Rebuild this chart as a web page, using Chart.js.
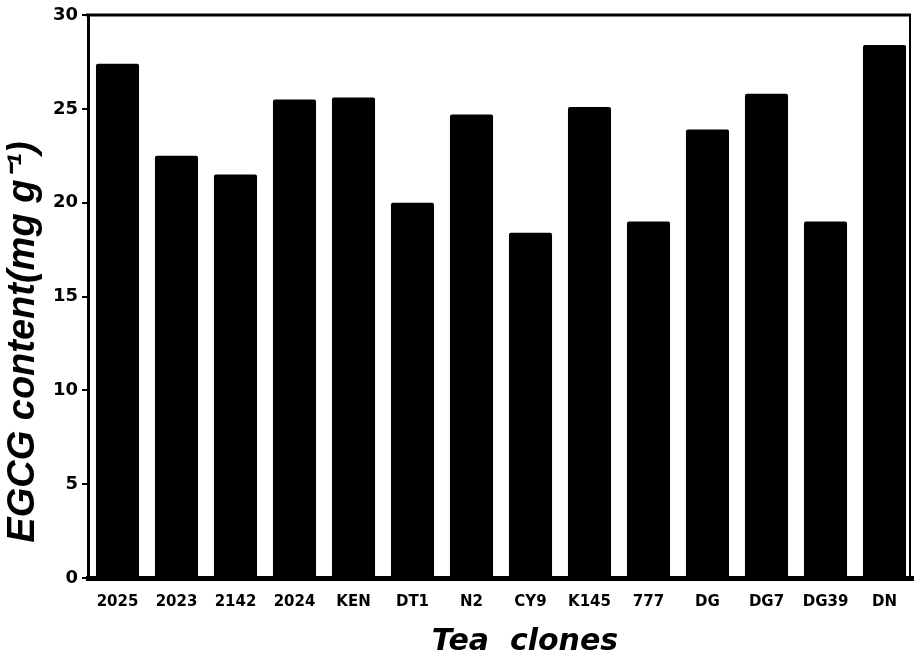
<!DOCTYPE html>
<html>
<head>
<meta charset="utf-8">
<script src="https://cdn.jsdelivr.net/npm/chart.js@4/dist/chart.umd.min.js"></script>
<style>
  html, body { margin: 0; padding: 0; background: #ffffff; }
  #wrap { width: 914px; height: 663px; }
</style>
</head>
<body>
<div id="wrap"><canvas id="c" width="914" height="663"></canvas></div>
<script>
// Tea clones and their EGCG content (mg g-1)
const clones = ['2025', '2023', '2142', '2024', 'KEN', 'DT1', 'N2', 'CY9', 'K145', '777', 'DG', 'DG7', 'DG39', 'DN'];
const egcg = [27.4, 22.5, 21.5, 25.5, 25.6, 20.0, 24.7, 18.4, 25.1, 19.0, 23.9, 25.8, 19.0, 28.4];
const yTicks = [0, 5, 10, 15, 20, 25, 30];
const yTitle = 'EGCG content(mg g\u207B\u00B9)';
const xTitle = 'Tea  clones';

const SANS = '"Liberation Sans", Arial, Helvetica, sans-serif';
const HEAVY = '"DejaVu Sans", "Liberation Sans", sans-serif';

// Frame lines on top/right and the two axis titles
const framePlugin = {
  id: 'frame',
  afterDraw(chart) {
    const { ctx, chartArea: a } = chart;
    ctx.save();
    ctx.strokeStyle = '#000';
    ctx.lineWidth = 3;
    ctx.beginPath();
    ctx.moveTo(a.left - 2, a.top);
    ctx.lineTo(911, a.top);
    ctx.stroke();
    ctx.lineWidth = 2;
    ctx.beginPath();
    ctx.moveTo(910, a.top);
    ctx.lineTo(910, a.bottom);
    ctx.stroke();

    ctx.fillStyle = '#000';
    ctx.textAlign = 'center';
    ctx.textBaseline = 'middle';
    ctx.font = 'italic bold 38px ' + SANS;
    ctx.translate(24, 342);
    ctx.rotate(-Math.PI / 2);
    ctx.fillText(yTitle, 0, 0);
    ctx.setTransform(1, 0, 0, 1, 0, 0);

    ctx.font = 'italic bold 30px ' + HEAVY;
    ctx.textBaseline = 'alphabetic';
    ctx.fillText(xTitle, 525, 650);
    ctx.restore();
  }
};

new Chart(document.getElementById('c'), {
  type: 'bar',
  data: {
    labels: clones,
    datasets: [{
      data: egcg,
      backgroundColor: '#000000',
      borderWidth: 0,
      barPercentage: 0.73,
      categoryPercentage: 1.0,
      borderRadius: { topLeft: 2, topRight: 2 }
    }]
  },
  options: {
    responsive: false,
    animation: false,
    devicePixelRatio: 1,
    layout: { padding: { left: 0, top: 15, right: 0, bottom: 0 } },
    plugins: { legend: { display: false }, tooltip: { enabled: false } },
    scales: {
      x: {
        afterFit(s) { s.height = 663 - 15 - 563; },
        grid: { display: false, drawTicks: false },
        border: { display: true, color: '#000', width: 5 },
        ticks: {
          color: '#000',
          font: { family: HEAVY, size: 15, weight: 'bold' },
          padding: 15,
          maxRotation: 0,
          autoSkip: false
        }
      },
      y: {
        min: 0,
        max: 30,
        afterFit(s) { s.width = 88; },
        afterBuildTicks(s) { s.ticks = yTicks.map(v => ({ value: v })); },
        grid: { drawOnChartArea: false, drawTicks: true, tickLength: 6, lineWidth: 2, color: '#000' },
        border: { display: true, color: '#000', width: 3 },
        ticks: {
          color: '#000',
          font: { family: HEAVY, size: 18, weight: 'bold' },
          padding: 4
        }
      }
    }
  },
  plugins: [framePlugin]
});
</script>
</body>
</html>
